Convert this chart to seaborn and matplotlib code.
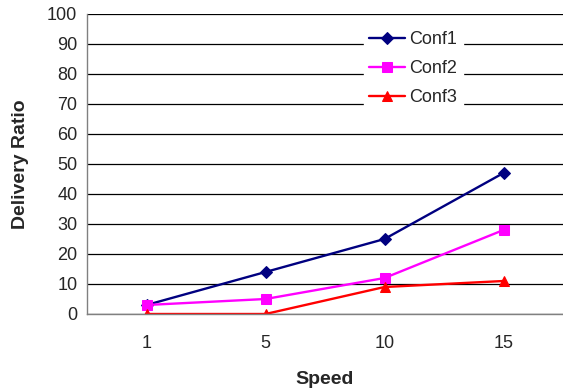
import matplotlib
matplotlib.use("Agg")
import matplotlib.pyplot as plt
import seaborn as sns
import pandas as pd
import numpy as np

speeds = ["1", "5", "10", "15"]
conf1 = [3, 14, 25, 47]
conf2 = [3, 5, 12, 28]
conf3 = [0, 0, 9, 11]

series = {"Conf1": conf1, "Conf2": conf2, "Conf3": conf3}
rows = []
for name, vals in series.items():
    for i, v in enumerate(vals):
        rows.append({"pos": i, "Speed": speeds[i], "value": v, "series": name})
df = pd.DataFrame(rows)

sns.set_style("white")
plt.rcParams["font.family"] = ["Liberation Sans", "DejaVu Sans"]

fig = plt.figure(figsize=(5.63, 3.9), dpi=100)
ax = fig.add_axes([87 / 563, 1 - 314 / 390, 476 / 563, 300 / 390])

palette = {"Conf1": "#000080", "Conf2": "#FF00FF", "Conf3": "#FF0000"}
markers = {"Conf1": "D", "Conf2": "s", "Conf3": "^"}
sizes = {"Conf1": 6.5, "Conf2": 7.5, "Conf3": 7.5}

for name in series:
    sub = df[df["series"] == name]
    sns.lineplot(data=sub, x="pos", y="value", ax=ax, color=palette[name],
                 marker=markers[name], markersize=sizes[name],
                 markeredgecolor=palette[name], linewidth=1.7, label=name)

ax.set_xlim(-0.5, 3.5)
ax.set_ylim(0, 100)
ax.set_yticks(np.arange(0, 101, 10))
ax.set_xticks(np.arange(0, 4))
ax.set_xticklabels(speeds)
ax.set_xticks(np.arange(-0.5, 3.6, 1), minor=True)
ax.tick_params(axis="x", which="major", length=0, labelsize=13, pad=15)
ax.tick_params(axis="x", which="minor", length=5, width=1, color="#808080", direction="out")
ax.tick_params(axis="y", length=5, width=1, color="#808080", direction="out", labelsize=13, pad=2)

ax.yaxis.grid(True, color="black", linewidth=0.9)
ax.set_axisbelow(True)
for s in ["top", "right"]:
    ax.spines[s].set_visible(False)
for s in ["left", "bottom"]:
    ax.spines[s].set_color("#808080")
    ax.spines[s].set_linewidth(1)

ax.set_xlabel("Speed", fontsize=14, fontweight="bold", labelpad=14)
ax.set_ylabel("Delivery Ratio", fontsize=14, fontweight="bold", labelpad=13)

leg = ax.legend(loc="upper left", bbox_to_anchor=(0.562, 0.992), frameon=True,
                fontsize=13, handlelength=2.0, handletextpad=0.25, labelspacing=0.67,
                borderpad=0.3, fancybox=False)
leg.get_frame().set_edgecolor("white")
leg.get_frame().set_facecolor("white")
leg.get_frame().set_alpha(1)

fig.savefig("out.png", dpi=100)
